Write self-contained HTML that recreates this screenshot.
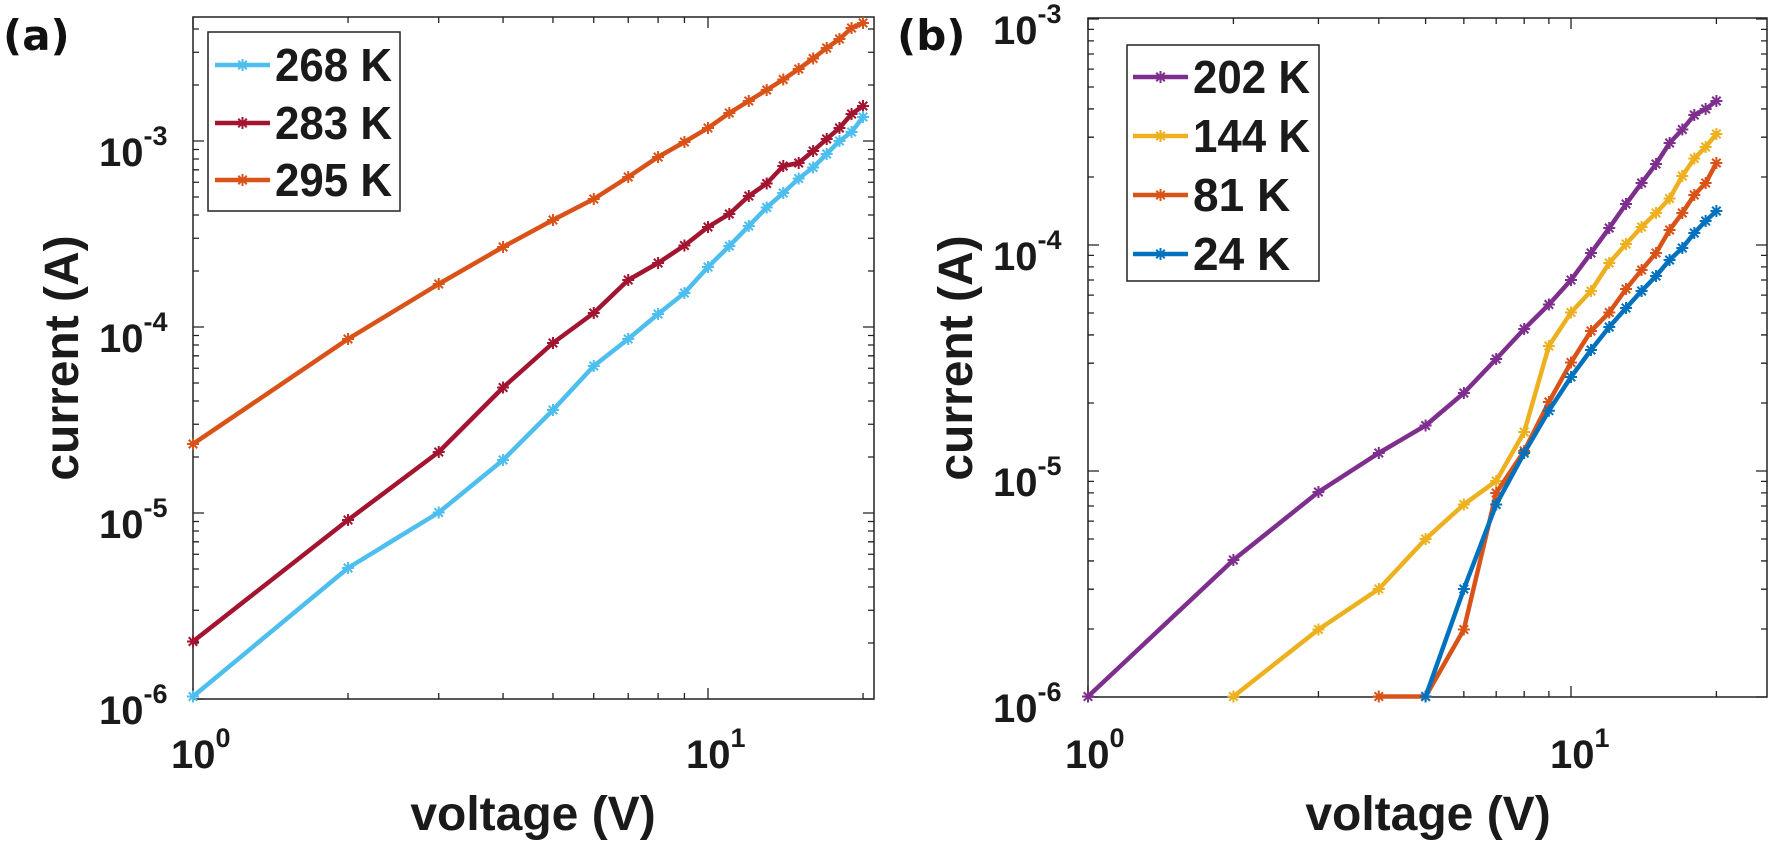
<!DOCTYPE html>
<html><head><meta charset="utf-8"><style>
html,body{margin:0;padding:0;background:#fff;}
svg{display:block;}
text{font-family:"Liberation Sans",Arial,sans-serif;font-weight:bold;fill:#1a1a1a;}
</style></head><body>
<svg id="s" width="1770" height="847" viewBox="0 0 1770 847" xmlns="http://www.w3.org/2000/svg">
<g id="g"></g>
<text x="3" y="50" style="font-family:'DejaVu Sans',sans-serif;font-size:42px;fill:#111">(a)</text>
<text x="897" y="50" style="font-family:'DejaVu Sans',sans-serif;font-size:42px;fill:#111">(b)</text>
<g font-size="40">
<text x="99" y="166">10<tspan font-size="27" dy="-21">-3</tspan></text>
<text x="99" y="352">10<tspan font-size="27" dy="-21">-4</tspan></text>
<text x="99" y="538">10<tspan font-size="27" dy="-21">-5</tspan></text>
<text x="99" y="724">10<tspan font-size="27" dy="-21">-6</tspan></text>
<text x="171" y="768">10<tspan font-size="27" dy="-21">0</tspan></text>
<text x="686" y="768">10<tspan font-size="27" dy="-21">1</tspan></text>
<text x="993" y="44">10<tspan font-size="27" dy="-21">-3</tspan></text>
<text x="993" y="270">10<tspan font-size="27" dy="-21">-4</tspan></text>
<text x="993" y="496">10<tspan font-size="27" dy="-21">-5</tspan></text>
<text x="993" y="722">10<tspan font-size="27" dy="-21">-6</tspan></text>
<text x="1065" y="768">10<tspan font-size="27" dy="-21">0</tspan></text>
<text x="1550" y="768">10<tspan font-size="27" dy="-21">1</tspan></text>
</g>
<text x="533" y="830" font-size="48" text-anchor="middle">voltage (V)</text>
<text x="1428" y="830" font-size="48" text-anchor="middle">voltage (V)</text>
<text transform="translate(78,358) rotate(-90)" font-size="48" text-anchor="middle">current (A)</text>
<text transform="translate(972,358) rotate(-90)" font-size="48" text-anchor="middle">current (A)</text>
<rect x="208" y="32" width="192" height="179" fill="#fff" stroke="#222" stroke-width="1.5"/>
<g font-size="46" style="fill:#000">
<text x="275" y="81" textLength="117" lengthAdjust="spacingAndGlyphs">268 K</text>
<text x="275" y="139" textLength="117" lengthAdjust="spacingAndGlyphs">283 K</text>
<text x="275" y="196" textLength="117" lengthAdjust="spacingAndGlyphs">295 K</text>
</g>
<rect x="1127" y="45" width="192" height="236" fill="#fff" stroke="#222" stroke-width="1.5"/>
<g font-size="46" style="fill:#000">
<text x="1193" y="93" textLength="117" lengthAdjust="spacingAndGlyphs">202 K</text>
<text x="1193" y="152" textLength="117" lengthAdjust="spacingAndGlyphs">144 K</text>
<text x="1193" y="211">81 K</text>
<text x="1193" y="270">24 K</text>
</g>
<g id="leg"></g>
</svg>
<script>
const NS="http://www.w3.org/2000/svg",g=document.getElementById('g'),lg=document.getElementById('leg');
function el(p,t,a){const e=document.createElementNS(NS,t);for(const k in a)e.setAttribute(k,a[k]);p.appendChild(e);return e;}
function axes(L,R,T,B,dx,dy,y0){
  el(g,'rect',{x:L,y:T,width:R-L,height:B-T,fill:'none',stroke:'#222','stroke-width':1.5});
  let s='';
  for(let d=0;d<2;d++)for(let m=1;m<10;m++){const x=L+dx*(d+Math.log10(m));if(x>R+0.5)continue;const len=m==1?11:6;
    s+=`M${x},${B}v${-len}M${x},${T}v${len}`;}
  for(let d=-1;d<6;d++)for(let m=1;m<10;m++){const y=y0+dy*d-dy*Math.log10(m);if(y<T-0.5||y>B+0.5)continue;const len=m==1?11:6;
    s+=`M${L},${y}h${len}M${R},${y}h${-len}`;}
  el(g,'path',{d:s,stroke:'#222','stroke-width':1.3,fill:'none'});
}
axes(193,874,17,699,515,186,141);
axes(1088,1767,18,697,483,226,19);
function star(p,x,y,c){let s='';for(let i=0;i<4;i++){const a=i*Math.PI/4,r=6;s+=`M${x-r*Math.cos(a)},${y-r*Math.sin(a)}L${x+r*Math.cos(a)},${y+r*Math.sin(a)}`;}
  el(p,'path',{d:s,stroke:c,'stroke-width':2,fill:'none'});}
function series(L,dx,v0,ys,c){const pts=ys.map((y,i)=>[L+dx*Math.log10(v0+i),y]);
  el(g,'polyline',{points:pts.map(p=>p.join(',')).join(' '),fill:'none',stroke:c,'stroke-width':4.5,'stroke-linejoin':'round'});
  pts.forEach(p=>star(g,p[0],p[1],c));}
const A=193,DA=515,Bx=1088,DB=483;
series(A,DA,1,[444,339,284,247,220,199,177,157,142,128,113,101,90,79.5,69,58.5,48,39,28,23],'#D95319');
series(A,DA,1,[641.5,520,452,387.5,343,313,280,263,245.5,227,214,196,183.5,166,163,151,139,128,114,106],'#A2142F');
series(A,DA,1,[696.5,568,512.5,460,410,366,339,314,293,267,246,226,207.5,193,178.5,167.5,154,141,132,117],'#4DBEEE');
series(Bx,DB,1,[696.5,560,492,453,425.5,393,359,329,304.5,280,253,228,204,183,164,143,129.5,115,109,101],'#7E2F8E');
series(Bx,DB,2,[696.5,629.5,589,539,504.5,481,432,346,312.5,291,263,244,227,213,198.5,176,158.5,147,134],'#EDB120');
series(Bx,DB,4,[696.5,696.5,629.5,493,451,402,362.5,331,312.5,289,270,253,230,213,195,183,163],'#D95319');
series(Bx,DB,5,[696.5,589,504.5,453,410.7,377,350,327,308,291,276,260,248,233,221,211],'#0072BD');
function legline(x1,x2,y,c){el(lg,'line',{x1:x1,x2:x2,y1:y,y2:y,stroke:c,'stroke-width':4.5});star(lg,(x1+x2)/2,y,c);}
legline(215,270,65,'#4DBEEE');legline(215,270,123,'#A2142F');legline(215,270,180,'#D95319');
legline(1133,1188,77,'#7E2F8E');legline(1133,1188,136,'#EDB120');legline(1133,1188,195,'#D95319');legline(1133,1188,254,'#0072BD');
</script>
</body></html>
